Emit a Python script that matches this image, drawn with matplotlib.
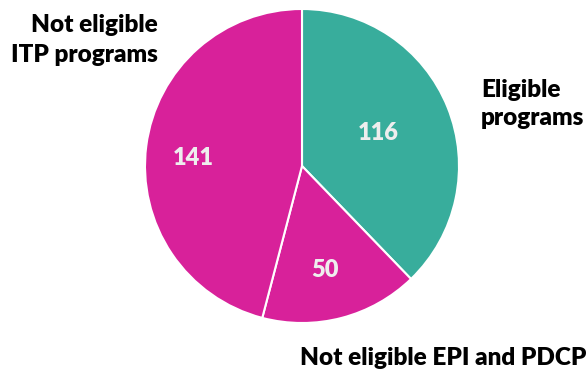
import matplotlib.pyplot as plt

values = [116, 50, 141]
value_labels = ['116', '50', '141']
colors = ['#38AD9C', '#D8219A', '#D8219A']

plt.rcParams['font.family'] = ['Lato', 'DejaVu Sans']

fig = plt.figure(figsize=(5.86, 3.74), dpi=100)
ax = fig.add_axes([0, 0, 1, 1])

wedges, texts = ax.pie(values, colors=colors, startangle=90, counterclock=False,
                       center=(302, 208), radius=157,
                       wedgeprops=dict(edgecolor='white', linewidth=1.5))
# pie() resets the limits, so set them afterwards
ax.set_xlim(0, 586)
ax.set_ylim(0, 374)
ax.set_aspect('equal')
ax.axis('off')

ax.text(378, 241, value_labels[0], ha='center', va='center', fontsize=17,
        fontweight='heavy', color='#EEEEEE')
ax.text(325, 104, value_labels[1], ha='center', va='center', fontsize=17,
        fontweight='heavy', color='#EEEEEE')
ax.text(193, 216, value_labels[2], ha='center', va='center', fontsize=17,
        fontweight='heavy', color='#EEEEEE')

ax.text(158, 334, 'Not eligible\nITP programs', ha='right', va='center',
        multialignment='right', fontsize=17.5, fontweight='heavy', color='black',
        linespacing=1.45)
ax.text(481, 270, 'Eligible\nprograms', ha='left', va='center',
        fontsize=17.5, fontweight='heavy', color='black', linespacing=1.35)
ax.text(300, 16, 'Not eligible EPI and PDCP', ha='left', va='center',
        fontsize=17.5, fontweight='heavy', color='black')

fig.savefig('out.png', dpi=100)
